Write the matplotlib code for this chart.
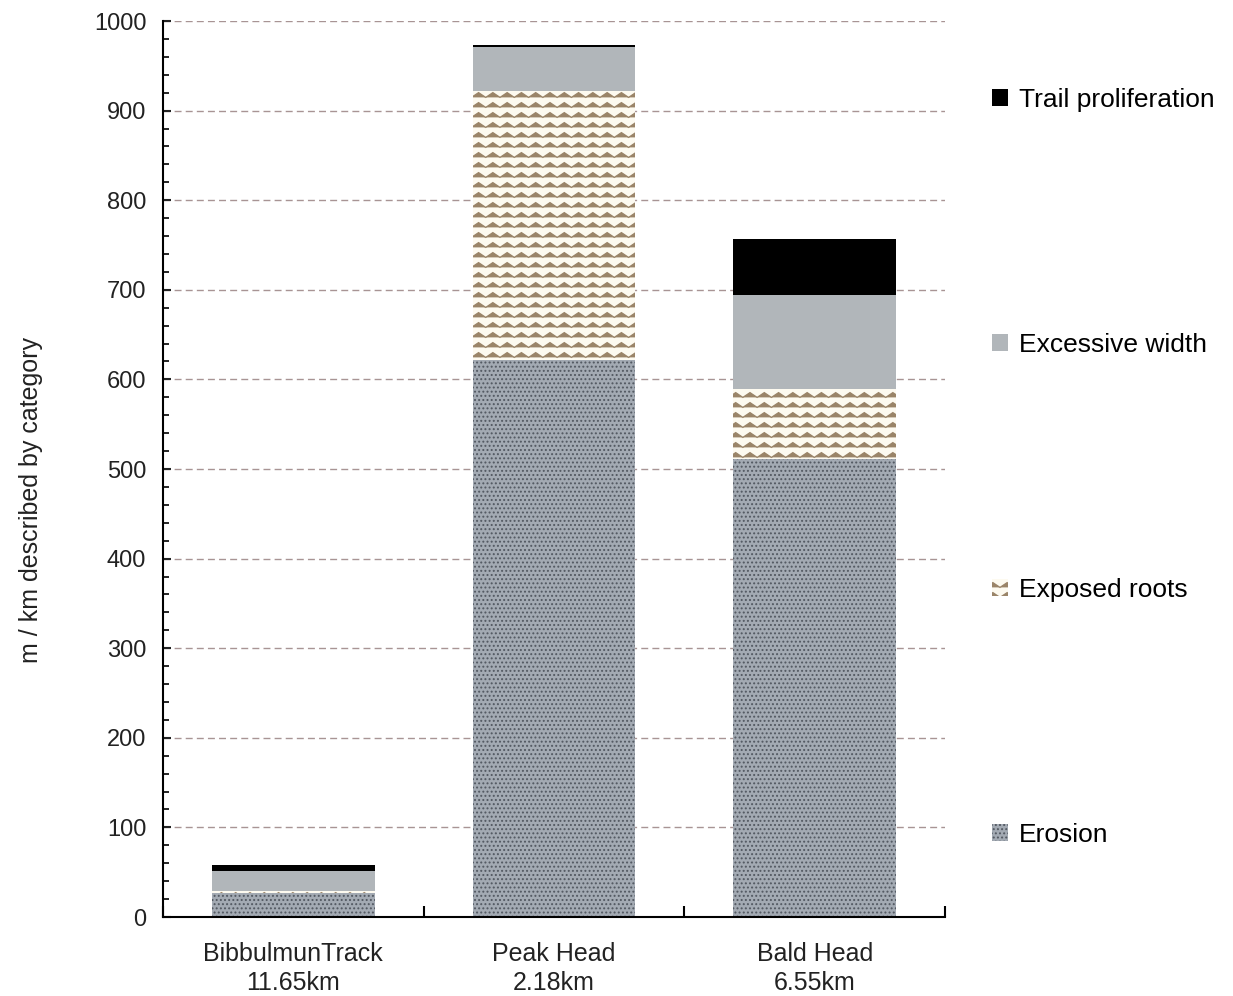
import warnings
import numpy as np
import matplotlib
matplotlib.use('Agg')
import matplotlib.hatch as mhatch
from matplotlib.path import Path
from matplotlib import pyplot as plt

warnings.filterwarnings('ignore')

# Data (m / km per category)
sites = ['BibbulmunTrack\n11.65km', 'Peak Head\n2.18km', 'Bald Head\n6.55km']
erosion = [27, 622, 511]
exposed_roots = [1.5, 300, 78]
excessive_width = [23, 49, 105]
trail_prolif = [7, 2, 63]


# Zigzag hatch for the "Exposed roots" fill
class ZigzagHatch(mhatch.HatchPatternBase):
    def __init__(self, hatch, density):
        self.num_rows = hatch.count('z') * 5
        self.num_teeth = 7
        self.num_vertices = self.num_rows * (2 * self.num_teeth + 1)

    def set_vertices_and_codes(self, vertices, codes):
        n = 2 * self.num_teeth + 1
        xs = np.linspace(0, 1, n)
        offs = np.where(np.arange(n) % 2 == 0, -0.024, 0.024)
        for i in range(self.num_rows):
            y = (i + 0.5) / self.num_rows
            vertices[i * n:(i + 1) * n, 0] = xs
            vertices[i * n:(i + 1) * n, 1] = y + offs
            codes[i * n] = Path.MOVETO
            codes[i * n + 1:(i + 1) * n] = Path.LINETO


mhatch._hatch_types.append(ZigzagHatch)

plt.rcParams['font.family'] = ['Liberation Sans', 'DejaVu Sans']
plt.rcParams['hatch.linewidth'] = 0.9

fig = plt.figure(figsize=(12.33, 9.96), dpi=100)
ax = fig.add_axes([0.1322, 0.0793, 0.6342, 0.8996])

x = np.arange(len(sites))
w = 0.625
b1 = np.array(erosion)
b2 = b1 + np.array(exposed_roots)
b3 = b2 + np.array(excessive_width)

h_ero = ax.bar(x, erosion, w, color='#a3aab3', edgecolor='#525861',
               hatch='....', linewidth=0, label='Erosion')
h_roots = ax.bar(x, exposed_roots, w, bottom=b1, color='#fdfaf0',
                 edgecolor='#9a8468', hatch='zz', linewidth=0,
                 label='Exposed roots')
h_width = ax.bar(x, excessive_width, w, bottom=b2, color='#b1b6ba',
                 linewidth=0, label='Excessive width')
h_trail = ax.bar(x, trail_prolif, w, bottom=b3, color='black',
                 linewidth=0, label='Trail proliferation')

ax.set_xlim(-0.5, 2.5)
ax.set_ylim(0, 1000)
ax.set_axisbelow(True)
ax.yaxis.grid(True, linestyle=(0, (5, 3)), color='#a89494', linewidth=1)

ax.spines['top'].set_visible(False)
ax.spines['right'].set_visible(False)
ax.spines['left'].set_linewidth(1.5)
ax.spines['bottom'].set_linewidth(1.5)

ax.set_yticks(np.arange(0, 1001, 100))
ax.set_yticks(np.arange(0, 1001, 20), minor=True)
ax.tick_params(axis='y', which='major', direction='in', length=6, width=1.5,
               labelsize=17, pad=12, colors='#222222')
ax.tick_params(axis='y', which='minor', direction='in', length=4, width=1.2)

ax.set_xticks([-0.5, 0.5, 1.5, 2.5], labels=['', '', '', ''])
ax.set_xticks(x, labels=sites, minor=True)
ax.tick_params(axis='x', which='major', direction='in', length=8, width=1.5)
ax.tick_params(axis='x', which='minor', length=0, labelsize=18, pad=18,
               colors='#222222')
for lbl in ax.get_xticklabels(minor=True):
    lbl.set_linespacing(1.25)

ax.set_ylabel('m / km described by category', fontsize=18, color='#222222')
ax.yaxis.set_label_coords(-0.153, 0.465)

ax.legend(handles=[h_trail, h_width, h_roots, h_ero],
          loc='upper left', bbox_to_anchor=(0.794, 0.925),
          bbox_transform=fig.transFigure, frameon=False, fontsize=19,
          handlelength=0.6, handleheight=0.6, handletextpad=0.4,
          labelspacing=8.37, borderpad=0)

fig.savefig('out.png', dpi=100)
